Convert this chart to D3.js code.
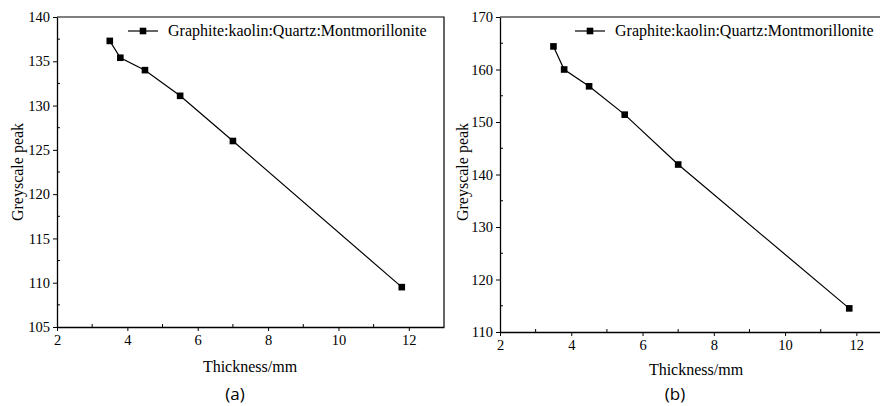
<!DOCTYPE html>
<html>
<head>
<meta charset="utf-8">
<script src="https://cdn.jsdelivr.net/npm/d3@7"></script>
<style>
  body { margin: 0; background: #fff; }
  svg { display: block; }
  text { font-family: "Liberation Serif", "Times New Roman", serif; fill: #000; }
</style>
</head>
<body>
<div id="visual-container"></div>
<script>
// thickness (mm) and greyscale peak values
let thicknessA = [3.5, 3.8, 4.5, 5.5, 7.0, 11.8]
let greyA = [137.3, 135.4, 134.0, 131.1, 126.0, 109.5]
let thicknessB = [3.5, 3.8, 4.5, 5.5, 7.0, 11.8]
let greyB = [164.4, 160.0, 156.8, 151.4, 141.9, 114.5]
let xTicks = [2, 4, 6, 8, 10, 12]
let yTicksA = [105, 110, 115, 120, 125, 130, 135, 140]
let yTicksB = [110, 120, 130, 140, 150, 160, 170]
let seriesName = 'Graphite:kaolin:Quartz:Montmorillonite'

let width = 880
let height = 406

const svg = d3.select('#visual-container')
    .append('svg')
    .attr('width', width)
    .attr('height', height)

const drawPanel = (p) => {
    let xScale = d3.scaleLinear().domain([2, 13]).range([p.left, p.right])
    let yScale = d3.scaleLinear().domain(p.yDomain).range([p.bottom, p.top])
    let g = svg.append('g')

    // frame (top and right sides)
    g.append('path')
        .attr('d', `M${p.left},${p.top}H${p.right}V${p.bottom}`)
        .attr('fill', 'none')
        .attr('stroke', '#000')
        .attr('stroke-width', 1.2)

    // major ticks point out, minor ticks point in
    let xAxis = d3.axisBottom(xScale).tickValues(xTicks).tickSizeInner(4).tickSizeOuter(0).tickPadding(4)
    let gx = g.append('g')
        .attr('transform', `translate(0,${p.bottom})`)
        .call(xAxis)
    let xMinor = d3.range(3, 13, 2)
    gx.selectAll('.minor').data(xMinor).enter().append('line')
        .attr('x1', d => xScale(d)).attr('x2', d => xScale(d))
        .attr('y1', 0).attr('y2', -3)
        .attr('stroke', '#000')

    let yAxis = d3.axisLeft(yScale).tickValues(p.yTicks).tickSizeInner(4).tickSizeOuter(0).tickPadding(3)
    let gy = g.append('g')
        .attr('transform', `translate(${p.left},0)`)
        .call(yAxis)
    gy.selectAll('.minor').data(p.yMinor).enter().append('line')
        .attr('x1', 0).attr('x2', 3)
        .attr('y1', d => yScale(d)).attr('y2', d => yScale(d))
        .attr('stroke', '#000')

    g.selectAll('.domain').attr('stroke-width', 1.3)
    g.selectAll('.tick line').attr('stroke-width', 1)
    g.selectAll('.tick text')
        .style('font-family', '"Liberation Serif", serif')
        .style('font-size', '14.5px')
        .attr('fill', '#000')

    // series
    let pts = p.xs.map((x, i) => [x, p.ys[i]])
    g.append('path')
        .datum(pts)
        .attr('fill', 'none')
        .attr('stroke', '#000')
        .attr('stroke-width', 1.2)
        .attr('d', d3.line().x(d => xScale(d[0])).y(d => yScale(d[1])))
    g.selectAll('.pt').data(pts).enter().append('rect')
        .attr('x', d => xScale(d[0]) - 3.3)
        .attr('y', d => yScale(d[1]) - 3.3)
        .attr('width', 6.6)
        .attr('height', 6.6)
        .attr('fill', '#000')

    // legend
    g.append('line')
        .attr('x1', p.legX).attr('x2', p.legX + 30)
        .attr('y1', 31).attr('y2', 31)
        .attr('stroke', '#000').attr('stroke-width', 1.2)
    g.append('rect')
        .attr('x', p.legX + 15 - 3.3).attr('y', 31 - 3.3)
        .attr('width', 6.6).attr('height', 6.6)
        .attr('fill', '#000')
    g.append('text')
        .attr('x', p.legX + 40).attr('y', 36)
        .style('font-size', '16px')
        .text(seriesName)

    // axis titles
    g.append('text')
        .attr('text-anchor', 'middle')
        .attr('x', p.xTitleX).attr('y', p.xTitleY)
        .style('font-size', '16px')
        .text('Thickness/mm')
    g.append('text')
        .attr('text-anchor', 'middle')
        .attr('transform', `translate(${p.yTitleX},172) rotate(-90)`)
        .style('font-size', '16px')
        .text('Greyscale peak')
    g.append('text')
        .attr('text-anchor', 'middle')
        .attr('x', p.capX).attr('y', 400)
        .style('font-family', '"Open Sans", sans-serif')
        .style('font-size', '17px')
        .text(p.caption)
}

drawPanel({
    left: 57, right: 444, top: 17, bottom: 327,
    yDomain: [105, 140], yTicks: yTicksA, yMinor: d3.range(107.5, 140, 5),
    xs: thicknessA, ys: greyA,
    legX: 128, xTitleX: 250, xTitleY: 372, yTitleX: 23, capX: 235, caption: '(a)'
})
drawPanel({
    left: 500, right: 892, top: 17, bottom: 332,
    yDomain: [110, 170], yTicks: yTicksB, yMinor: d3.range(115, 170, 10),
    xs: thicknessB, ys: greyB,
    legX: 575, xTitleX: 696, xTitleY: 375, yTitleX: 468, capX: 675, caption: '(b)'
})
</script>
</body>
</html>
